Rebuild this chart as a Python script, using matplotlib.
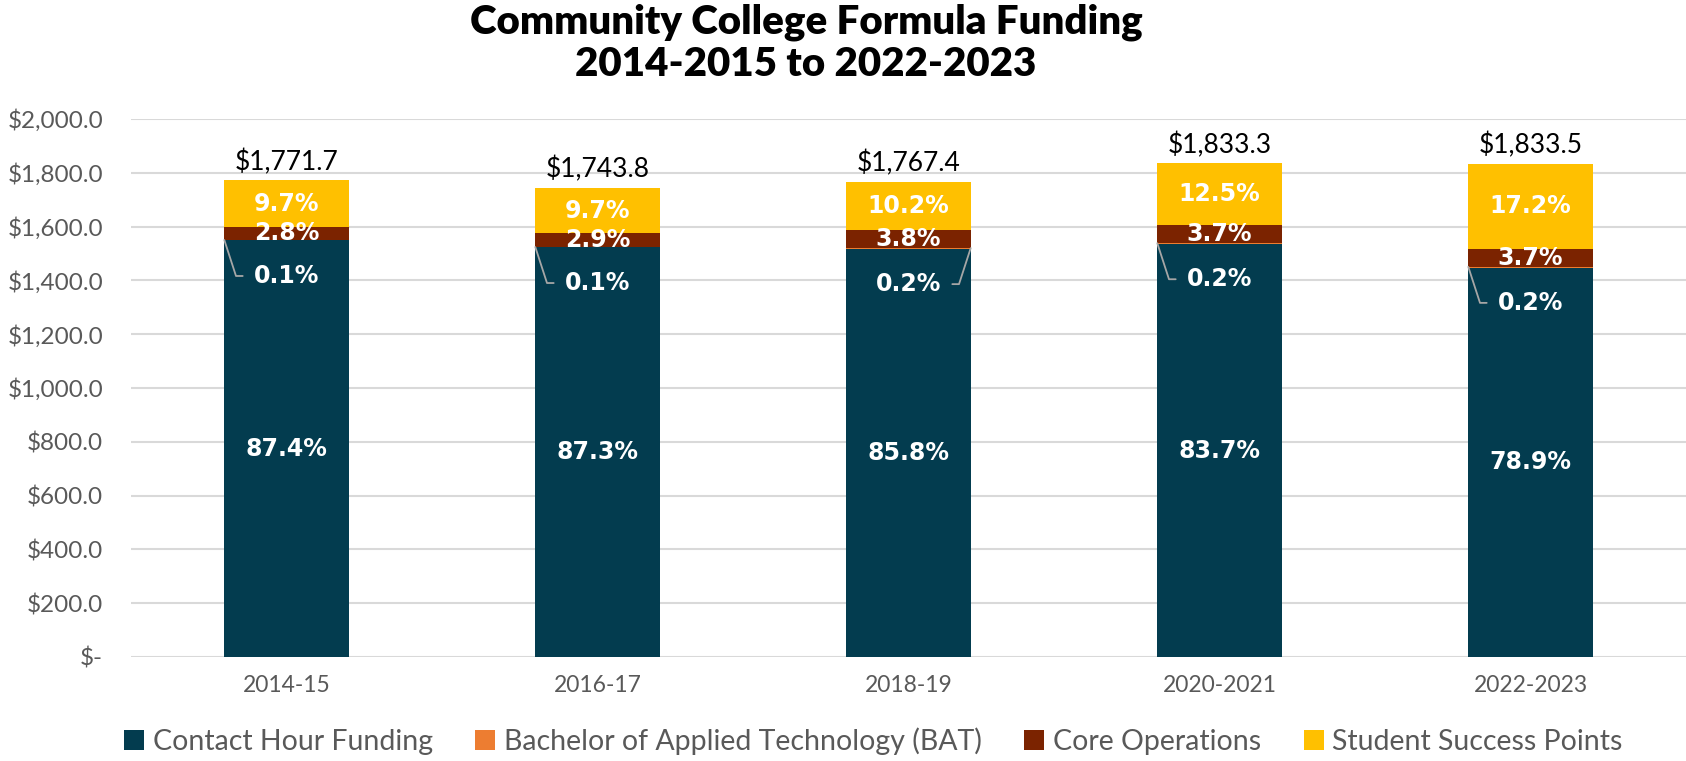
import numpy as np
import matplotlib.pyplot as plt
from matplotlib.transforms import offset_copy

years = ['2014-15', '2016-17', '2018-19', '2020-2021', '2022-2023']
totals = [1771.7, 1743.8, 1767.4, 1833.3, 1833.5]
# share of each year's total, in percent
contact_pct = [87.4, 87.3, 85.8, 83.7, 78.9]
bat_pct = [0.1, 0.1, 0.2, 0.2, 0.2]
core_pct = [2.8, 2.9, 3.8, 3.7, 3.7]
ssp_pct = [9.7, 9.7, 10.2, 12.5, 17.2]

series = ['Contact Hour Funding', 'Bachelor of Applied Technology (BAT)',
          'Core Operations', 'Student Success Points']
colors = ['#033c4f', '#ed7d31', '#7b2300', '#ffc000']
yticks = [0, 200, 400, 600, 800, 1000, 1200, 1400, 1600, 1800, 2000]

plt.rcParams['font.family'] = ['Lato', 'DejaVu Sans']
gray = '#595959'

fig = plt.figure(figsize=(16.86, 7.61), dpi=100)
ax = fig.add_axes([131 / 1686, 1 - 657 / 761, 1 - 131 / 1686, (657 - 119) / 761])

x = np.arange(len(years))
tot = np.array(totals)
pcts = [contact_pct, bat_pct, core_pct, ssp_pct]
bottom = np.zeros(len(years))
segs = []
for pct, name, c in zip(pcts, series, colors):
    h = tot * np.array(pct) / 100
    ax.bar(x, h, 0.4, bottom=bottom, color=c, label=name, zorder=3)
    segs.append((bottom.copy(), h, pct))
    bottom = bottom + h

lbl = dict(color='white', fontsize=17, fontweight='bold', family='DejaVu Sans', zorder=5)

# percent labels inside bars
for k, (b, h, pct) in enumerate(segs):
    if k == 1:
        continue
    for i in range(len(years)):
        ax.text(x[i], b[i] + h[i] / 2, f'{pct[i]:.1f}%', ha='center', va='center', **lbl)

# BAT slivers: label pushed below the sliver, leader line to the bar corner
below = offset_copy(ax.transData, fig=fig, x=0, y=-36, units='dots')
b, h, pct = segs[1]
for i in range(len(years)):
    right = (i == 2)
    top = b[i] + h[i]
    edge = x[i] + (0.2 if right else -0.2)
    ax.annotate(f'{pct[i]:.1f}%', xy=(edge, top), xytext=(x[i], top),
                textcoords=below, ha='center', va='center', **lbl,
                arrowprops=dict(arrowstyle='-', color='#a6a6a6', lw=1.3,
                                connectionstyle=f'angle,angleA=0,angleB={72 if right else 108},rad=0',
                                relpos=(1, 0.5) if right else (0, 0.5),
                                shrinkA=6, shrinkB=0))

# totals above bars
for i in range(len(years)):
    ax.annotate(f'${totals[i]:,.1f}', xy=(x[i], totals[i]), xytext=(0, 4),
                textcoords='offset points', ha='center', va='bottom',
                fontsize=19, color='black')

ax.set_xlim(-0.5, len(years) - 0.5)
ax.set_ylim(0, 2000)
ax.set_yticks(yticks)
ax.set_yticklabels(['$-'] + [f'${v:,.1f}' for v in yticks[1:]])
ax.set_xticks(x)
ax.set_xticklabels(years)
ax.tick_params(axis='y', length=0, pad=20, labelsize=17.5, labelcolor=gray)
ax.tick_params(axis='x', length=0, pad=13, labelsize=16.5, labelcolor=gray)
ax.grid(axis='y', color='#d9d9d9', linewidth=1.5, zorder=0)
for s in ax.spines.values():
    s.set_visible(False)
ax.set_axisbelow(True)

fig.suptitle('Community College Formula Funding\n2014-2015 to 2022-2023',
             x=0.478, y=0.995, fontsize=29, fontweight='heavy', linespacing=1.15)

ax.legend(loc='center', bbox_to_anchor=(0.518, 0.026), bbox_transform=fig.transFigure,
          ncol=4, frameon=False, fontsize=20.5, labelcolor=gray, handlelength=0.7,
          handleheight=0.7, handletextpad=0.3, columnspacing=1.5)

fig.savefig('out.png', dpi=100)
